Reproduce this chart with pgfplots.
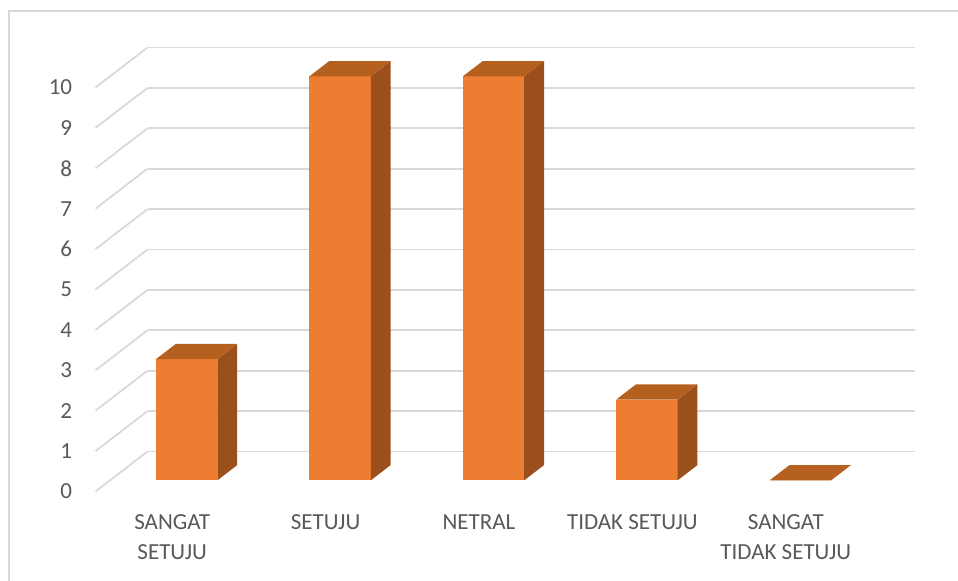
\documentclass[border=0pt]{standalone}
\usepackage{pgfplots}
\pgfplotsset{compat=1.18}
\usepackage{fontspec}
\setmainfont{Carlito}
\usetikzlibrary{calc}
\definecolor{barfront}{HTML}{ED7D31}
\definecolor{bartop}{HTML}{B5601F}
\definecolor{barside}{HTML}{9B4F1C}
\definecolor{gridc}{HTML}{D9D9D9}
\definecolor{txt}{HTML}{595959}
% #1 left x, #2 right x, #3 value
\newcommand{\cuboid}[3]{%
 \addplot3[fill=barfront, draw=none] coordinates {(#1,0.28,0) (#2,0.28,0) (#2,0.28,#3) (#1,0.28,#3)};
 \addplot3[fill=barside, draw=none] coordinates {(#2,0.28,0) (#2,0.66,0) (#2,0.66,#3) (#2,0.28,#3)};
 \addplot3[fill=bartop, draw=none] coordinates {(#1,0.28,#3) (#2,0.28,#3) (#2,0.66,#3) (#1,0.66,#3)};
}
\begin{document}
\begin{tikzpicture}
\begin{axis}[
 x={(76.7pt,0pt)}, y={(26pt,20pt)}, z={(0pt,20.2pt)},
 xmin=-0.5, xmax=4.5, ymin=0, ymax=1, zmin=0, zmax=10,
 xtick={0,1,2,3,4},
 xticklabels={{SANGAT\\SETUJU}, SETUJU, NETRAL, {TIDAK SETUJU}, {SANGAT\\TIDAK SETUJU}},
 ytick=\empty,
 ztick={0,1,...,10},
 zmajorgrids=true, xmajorgrids=false, ymajorgrids=false,
 grid style={draw=gridc, line width=0.9pt},
 axis line style={draw=none},
 major tick length=0pt,
 clip=false,
 no marks,
 /pgf/number format/assume math mode=true,
 tick label style={font=\fontsize{11.5}{15}\selectfont, text=txt, inner sep=0pt},
 xticklabel style={align=center, anchor=north, yshift=-11.5pt},
 zticklabel style={anchor=east, xshift=-11.5pt},
]
\cuboid{-0.2}{0.2}{3}
\cuboid{0.8}{1.2}{10}
\cuboid{1.8}{2.2}{10}
\cuboid{2.8}{3.2}{2}
\cuboid{3.8}{4.2}{0}
\coordinate (FL) at (axis cs:-0.5,0,0);
\end{axis}
\pgfresetboundingbox
\useasboundingbox ($(FL)+(-47.75pt,-44.25pt)$) rectangle ++(479pt,290pt);
\draw[gridc, line width=0.75pt] ($(FL)+(-43.25pt,-54.25pt)$) rectangle ($(FL)+(437pt,240.25pt)$);
\end{tikzpicture}
\end{document}
